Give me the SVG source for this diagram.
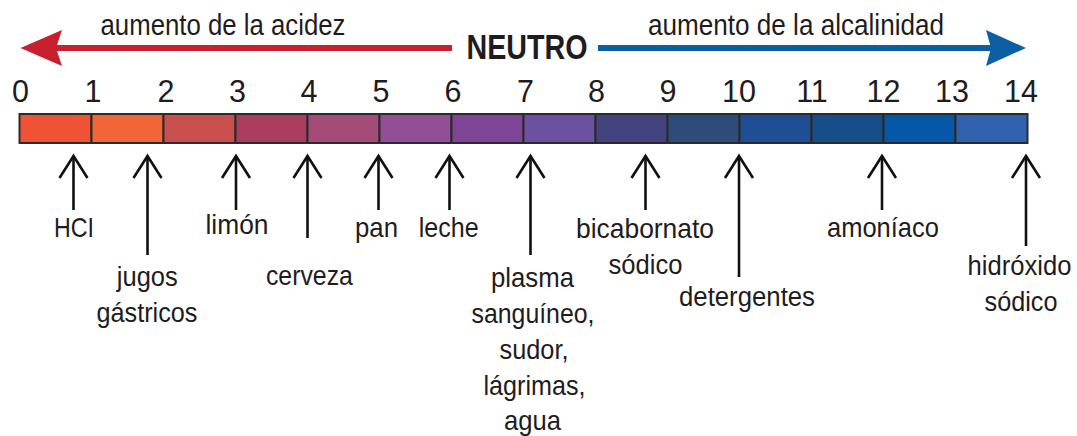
<svg xmlns="http://www.w3.org/2000/svg" width="1077" height="436" viewBox="0 0 1077 436">
<style>
text{font-family:"Liberation Sans",Arial,sans-serif;fill:#1f1c1d}
.hdr{font-size:29px;text-anchor:middle}
.num{font-size:30.5px;text-anchor:middle}
.lbl{font-size:27.5px;text-anchor:middle}
.seg{stroke:#2b2b2b;stroke-width:2}
.conn{stroke:#111;stroke-width:2.6;fill:none;marker-end:url(#open)}
</style>
<defs>
<marker id="open" markerUnits="userSpaceOnUse" orient="auto" refX="0" refY="0" markerWidth="30" markerHeight="30" overflow="visible">
<path d="M-22,-14 L0,0 L-22,14" fill="none" stroke="#111" stroke-width="2.6" stroke-linejoin="miter"/>
</marker>
</defs>
<rect width="1077" height="436" fill="#fff"/>
<g id="header">
<g id="acidity-arrow">
<line x1="452" y1="48" x2="52" y2="48" stroke="#c8202f" stroke-width="6"/>
<polygon points="20.5,48 62,30 56,48 62,66" fill="#c8202f"/>
<text class="hdr" x="223" y="35" textLength="245" lengthAdjust="spacingAndGlyphs">aumento de la acidez</text>
</g>
<g id="neutral">
<text x="527" y="59" style="font-size:34.5px;font-weight:bold;text-anchor:middle" textLength="121" lengthAdjust="spacingAndGlyphs">NEUTRO</text>
</g>
<g id="alkalinity-arrow">
<line x1="598" y1="48" x2="994" y2="48" stroke="#0c5fa3" stroke-width="6"/>
<polygon points="1026,48 986,30 991,48 986,66" fill="#0c5fa3"/>
<text class="hdr" x="796" y="35" textLength="296" lengthAdjust="spacingAndGlyphs">aumento de la alcalinidad</text>
</g>
</g>
<g id="ph-scale">
<rect class="seg" x="19.5" y="114" width="72" height="29" fill="#ef5234"/>
<rect class="seg" x="91.5" y="114" width="72" height="29" fill="#f26539"/>
<rect class="seg" x="163.5" y="114" width="72" height="29" fill="#c84f4e"/>
<rect class="seg" x="235.5" y="114" width="72" height="29" fill="#a93e5f"/>
<rect class="seg" x="307.5" y="114" width="72" height="29" fill="#a54b77"/>
<rect class="seg" x="379.5" y="114" width="72" height="29" fill="#924f98"/>
<rect class="seg" x="451.5" y="114" width="72" height="29" fill="#7e4496"/>
<rect class="seg" x="523.5" y="114" width="72" height="29" fill="#6b51a0"/>
<rect class="seg" x="595.5" y="114" width="72" height="29" fill="#434380"/>
<rect class="seg" x="667.5" y="114" width="72" height="29" fill="#2e4c78"/>
<rect class="seg" x="739.5" y="114" width="72" height="29" fill="#1f4e94"/>
<rect class="seg" x="811.5" y="114" width="72" height="29" fill="#164f87"/>
<rect class="seg" x="883.5" y="114" width="72" height="29" fill="#0557a8"/>
<rect class="seg" x="955.5" y="114" width="72" height="29" fill="#3162ad"/>
<text class="num" x="20.5" y="102">0</text>
<text class="num" x="93" y="102">1</text>
<text class="num" x="166" y="102">2</text>
<text class="num" x="237.5" y="102">3</text>
<text class="num" x="309" y="102">4</text>
<text class="num" x="381" y="102">5</text>
<text class="num" x="453" y="102">6</text>
<text class="num" x="525.5" y="102">7</text>
<text class="num" x="596.5" y="102">8</text>
<text class="num" x="668" y="102">9</text>
<text class="num" x="739" y="102">10</text>
<text class="num" x="812" y="102">11</text>
<text class="num" x="883.5" y="102">12</text>
<text class="num" x="952" y="102">13</text>
<text class="num" x="1021" y="102">14</text>
</g>
<g id="connectors">
<line class="conn" x1="73.5" y1="210" x2="73.5" y2="156"/>
<line class="conn" x1="147.5" y1="255" x2="147.5" y2="156"/>
<line class="conn" x1="236" y1="210" x2="236" y2="156"/>
<line class="conn" x1="307.5" y1="238" x2="307.5" y2="156"/>
<line class="conn" x1="378.5" y1="210" x2="378.5" y2="156"/>
<line class="conn" x1="449.5" y1="210" x2="449.5" y2="156"/>
<line class="conn" x1="530.5" y1="255" x2="530.5" y2="156"/>
<line class="conn" x1="645.5" y1="210" x2="645.5" y2="156"/>
<line class="conn" x1="739" y1="277" x2="739" y2="156"/>
<line class="conn" x1="882" y1="210" x2="882" y2="156"/>
<line class="conn" x1="1026" y1="246" x2="1026" y2="156"/>
</g>
<g id="hcl"><text class="lbl" x="74" y="237" textLength="40" lengthAdjust="spacingAndGlyphs">HCI</text></g>
<g id="jugos-gastricos">
<text class="lbl" x="147.3" y="286" textLength="61" lengthAdjust="spacingAndGlyphs">jugos</text>
<text class="lbl" x="147" y="322" textLength="101" lengthAdjust="spacingAndGlyphs">gástricos</text>
</g>
<g id="limon"><text class="lbl" x="237" y="233.5" textLength="63" lengthAdjust="spacingAndGlyphs">limón</text></g>
<g id="cerveza"><text class="lbl" x="309.4" y="285" textLength="87" lengthAdjust="spacingAndGlyphs">cerveza</text></g>
<g id="pan"><text class="lbl" x="376.5" y="237" textLength="43" lengthAdjust="spacingAndGlyphs">pan</text></g>
<g id="leche"><text class="lbl" x="448.7" y="237" textLength="60" lengthAdjust="spacingAndGlyphs">leche</text></g>
<g id="plasma">
<text class="lbl" x="532.5" y="287" textLength="83" lengthAdjust="spacingAndGlyphs">plasma</text>
<text class="lbl" x="533" y="323" textLength="123" lengthAdjust="spacingAndGlyphs">sanguíneo,</text>
<text class="lbl" x="534" y="359" textLength="69" lengthAdjust="spacingAndGlyphs">sudor,</text>
<text class="lbl" x="534.5" y="395" textLength="102" lengthAdjust="spacingAndGlyphs">lágrimas,</text>
<text class="lbl" x="532.5" y="430" textLength="57" lengthAdjust="spacingAndGlyphs">agua</text>
</g>
<g id="bicabornato">
<text class="lbl" x="645" y="237.5" textLength="138" lengthAdjust="spacingAndGlyphs">bicabornato</text>
<text class="lbl" x="645.5" y="273.5" textLength="74" lengthAdjust="spacingAndGlyphs">sódico</text>
</g>
<g id="detergentes"><text class="lbl" x="747" y="306" textLength="136" lengthAdjust="spacingAndGlyphs">detergentes</text></g>
<g id="amoniaco"><text class="lbl" x="883" y="237" textLength="112" lengthAdjust="spacingAndGlyphs">amoníaco</text></g>
<g id="hidroxido">
<text class="lbl" x="1019.5" y="275" textLength="104" lengthAdjust="spacingAndGlyphs">hidróxido</text>
<text class="lbl" x="1021" y="311" textLength="73" lengthAdjust="spacingAndGlyphs">sódico</text>
</g>
</svg>
